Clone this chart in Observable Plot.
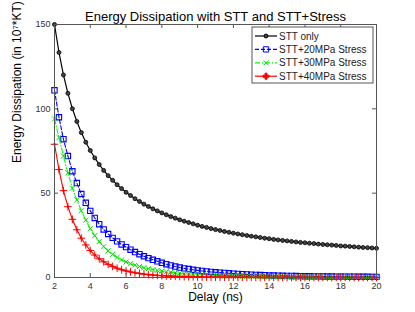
<!DOCTYPE html>
<html><head><meta charset="utf-8">
<script src="https://cdn.jsdelivr.net/npm/d3@7"></script>
<script src="https://cdn.jsdelivr.net/npm/@observablehq/plot@0.6"></script>
<style>body{margin:0;background:#fff;} svg{font-family:"Liberation Sans",Arial,sans-serif;}</style>
</head><body><div id="chart"></div>
<script>
const delay = [2,2.25,2.5,2.75,3,3.25,3.5,3.75,4,4.25,4.5,4.75,5,5.25,5.5,5.75,6,6.25,6.5,6.75,7,7.25,7.5,7.75,8,8.25,8.5,8.75,9,9.25,9.5,9.75,10,10.25,10.5,10.75,11,11.25,11.5,11.75,12,12.25,12.5,12.75,13,13.25,13.5,13.75,14,14.25,14.5,14.75,15,15.25,15.5,15.75,16,16.25,16.5,16.75,17,17.25,17.5,17.75,18,18.25,18.5,18.75,19,19.25,19.5,19.75,20];
const sttOnly = [150,133.4,120.1,109.2,100.1,92.5,85.9,80.2,75.3,70.9,67.0,63.5,60.4,57.6,55.0,52.7,50.5,48.6,46.7,45.1,43.5,42.1,40.7,39.5,38.3,37.2,36.1,35.2,34.2,33.4,32.6,31.8,31.0,30.3,29.7,29.0,28.4,27.9,27.3,26.8,26.3,25.8,25.4,24.9,24.5,24.1,23.7,23.3,23.0,22.6,22.3,22.0,21.7,21.4,21.1,20.8,20.6,20.3,20.1,19.8,19.6,19.4,19.2,19.0,18.7,18.6,18.4,18.2,18.0,17.8,17.7,17.5,17.3];
const stress20 = [111,95,82,72,63,56,49.5,44.3,39.5,35.3,31.6,28.5,25.8,23.5,21.4,19.6,18,16.5,15.1,13.8,12.6,11.5,10.5,9.6,8.7,7.9,7.2,6.5,5.9,5.4,5.0,4.6,4.2,3.9,3.6,3.3,3.1,2.9,2.7,2.5,2.3,2.1,1.95,1.8,1.65,1.55,1.45,1.35,1.25,1.17,1.1,1.03,0.97,0.91,0.86,0.81,0.77,0.73,0.69,0.66,0.63,0.6,0.57,0.54,0.52,0.5,0.48,0.46,0.44,0.42,0.4,0.39,0.37];
const stress30 = [94,83,72,62,53,46,39.5,34,29,24.8,21.3,18.3,15.8,13.7,11.9,10.4,9.2,8.2,7.3,6.5,5.8,5.2,4.7,4.2,3.8,3.4,3.1,2.8,2.5,2.3,2.1,1.9,1.7,1.55,1.4,1.28,1.17,1.07,0.98,0.9,0.83,0.76,0.7,0.65,0.6,0.55,0.51,0.47,0.44,0.41,0.38,0.35,0.33,0.31,0.29,0.27,0.25,0.24,0.22,0.21,0.2,0.19,0.18,0.17,0.16,0.15,0.14,0.13,0.13,0.12,0.11,0.11,0.1];
const stress40 = [79,64,51.5,42,34.5,28.3,23.3,19.3,16,13.3,11.1,9.3,7.8,6.6,5.5,4.6,3.9,3.3,2.8,2.4,2.0,1.7,1.45,1.25,1.07,0.92,0.8,0.69,0.6,0.52,0.46,0.4,0.35,0.31,0.28,0.25,0.22,0.2,0.18,0.16,0.15,0.14,0.13,0.12,0.11,0.1,0.09,0.09,0.08,0.08,0.07,0.07,0.06,0.06,0.06,0.05,0.05,0.05,0.05,0.05,0.04,0.04,0.04,0.04,0.04,0.04,0.03,0.03,0.03,0.03,0.03,0.03,0.03];
const seriesNames = ["STT only","STT+20MPa Stress","STT+30MPa Stress","STT+40MPa Stress"];
const xTicks = [2,4,6,8,10,12,14,16,18,20];
const yTicks = [0,50,100,150];
const titleText = "Energy Dissipation with STT and STT+Stress";
const xLabel = "Delay (ns)";
const yLabel = "Energy Dissipation (in 10\u2077*KT)";

const rows = vals => delay.map((d, i) => ({delay: d, value: vals[i]}));
const dBlack = rows(sttOnly), dBlue = rows(stress20), dGreen = rows(stress30), dRed = rows(stress40);

const W = 415, H = 312, mL = 54, mR = 39, mT = 24, mB = 35;
const iw = W - mL - mR, ih = H - mT - mB, tk = 4;
const axisStroke = "#555";

const chart = Plot.plot({
  width: W, height: H,
  marginLeft: mL, marginRight: mR, marginTop: mT, marginBottom: mB,
  style: {fontFamily: "Liberation Sans, Arial, sans-serif", fontSize: "9px", background: "white", color: "#333"},
  x: {domain: [2, 20]},
  y: {domain: [0, 150]},
  marks: [
    Plot.tickX(xTicks, {x: d => d, insetTop: ih - tk, stroke: axisStroke}),
    Plot.tickX(xTicks, {x: d => d, insetBottom: ih - tk, stroke: axisStroke}),
    Plot.tickY(yTicks, {y: d => d, insetRight: iw - tk, stroke: axisStroke}),
    Plot.tickY(yTicks, {y: d => d, insetLeft: iw - tk, stroke: axisStroke}),
    Plot.axisX({ticks: xTicks, tickSize: 0, tickPadding: 5, label: null}),
    Plot.axisY({ticks: yTicks, tickSize: 0, tickPadding: 4, label: null}),
    Plot.line(dBlack, {x: "delay", y: "value", stroke: "black", strokeWidth: 1.2}),
    Plot.dot(dBlack, {x: "delay", y: "value", r: 2, stroke: "black", fill: "#444", strokeWidth: 0.8}),
    Plot.line(dBlue, {x: "delay", y: "value", stroke: "#0000ff", strokeWidth: 1.1, strokeDasharray: "4,2"}),
    Plot.dot(dBlue, {x: "delay", y: "value", symbol: "square", r: 3, stroke: "#0000ff", fill: "none", strokeWidth: 1.1}),
    Plot.line(dGreen, {x: "delay", y: "value", stroke: "#00ff00", strokeWidth: 1.1, strokeDasharray: "5,2,1,2"}),
    Plot.dot(dGreen, {x: "delay", y: "value", symbol: "times", r: 2.4, stroke: "#00dd00", strokeWidth: 1}),
    Plot.line(dRed, {x: "delay", y: "value", stroke: "#ff0000", strokeWidth: 1.1}),
    Plot.dot(dRed, {x: "delay", y: "value", symbol: "plus", r: 2.6, stroke: "#ff0000", strokeWidth: 1}),
    Plot.dot(dRed, {x: "delay", y: "value", r: 1.2, fill: "#ff0000"}),
    Plot.frame({stroke: axisStroke}),
    Plot.text([titleText], {frameAnchor: "top", dy: -13, fontSize: 13, fill: "black"}),
    Plot.text([xLabel], {frameAnchor: "bottom", dy: 23, fontSize: 12, fill: "black"}),
    Plot.text([yLabel], {frameAnchor: "left", rotate: -90, dx: -37, dy: 12, fontSize: 12, fill: "black"})
  ]
});
document.getElementById("chart").appendChild(chart);

// legend
const svg = d3.select(chart);
const lg = svg.append("g");
const lx = 252, ly = 27, lw = 121, lh = 56;
lg.append("rect").attr("x", lx).attr("y", ly).attr("width", lw).attr("height", lh)
  .attr("fill", "white").attr("stroke", axisStroke);
const styles = [
  {stroke: "black", dash: null, sym: d3.symbolCircle, size: 12, fill: "#444", mstroke: "black"},
  {stroke: "#0000ff", dash: "4,2", sym: d3.symbolSquare, size: 28, fill: "none", mstroke: "#0000ff"},
  {stroke: "#00ff00", dash: "5,2,1,2", sym: d3.symbolTimes, size: 18, fill: "none", mstroke: "#00dd00"},
  {stroke: "#ff0000", dash: null, sym: d3.symbolCross, size: 20, fill: "#ff0000", mstroke: "#ff0000"}
];
seriesNames.forEach((name, i) => {
  const y = ly + 9 + i * 13.4;
  const s = styles[i];
  lg.append("line").attr("x1", lx + 3).attr("x2", lx + 25).attr("y1", y).attr("y2", y)
    .attr("stroke", s.stroke).attr("stroke-width", 1.2).attr("stroke-dasharray", s.dash);
  lg.append("path").attr("d", d3.symbol(s.sym, s.size)()).attr("transform", `translate(${lx + 14},${y})`)
    .attr("fill", s.fill).attr("stroke", s.mstroke).attr("stroke-width", 1);
  lg.append("text").attr("x", lx + 27).attr("y", y).attr("dy", "0.35em")
    .attr("text-anchor", "start").attr("font-size", 10).attr("fill", "#222").text(name);
});
</script>
</body></html>
